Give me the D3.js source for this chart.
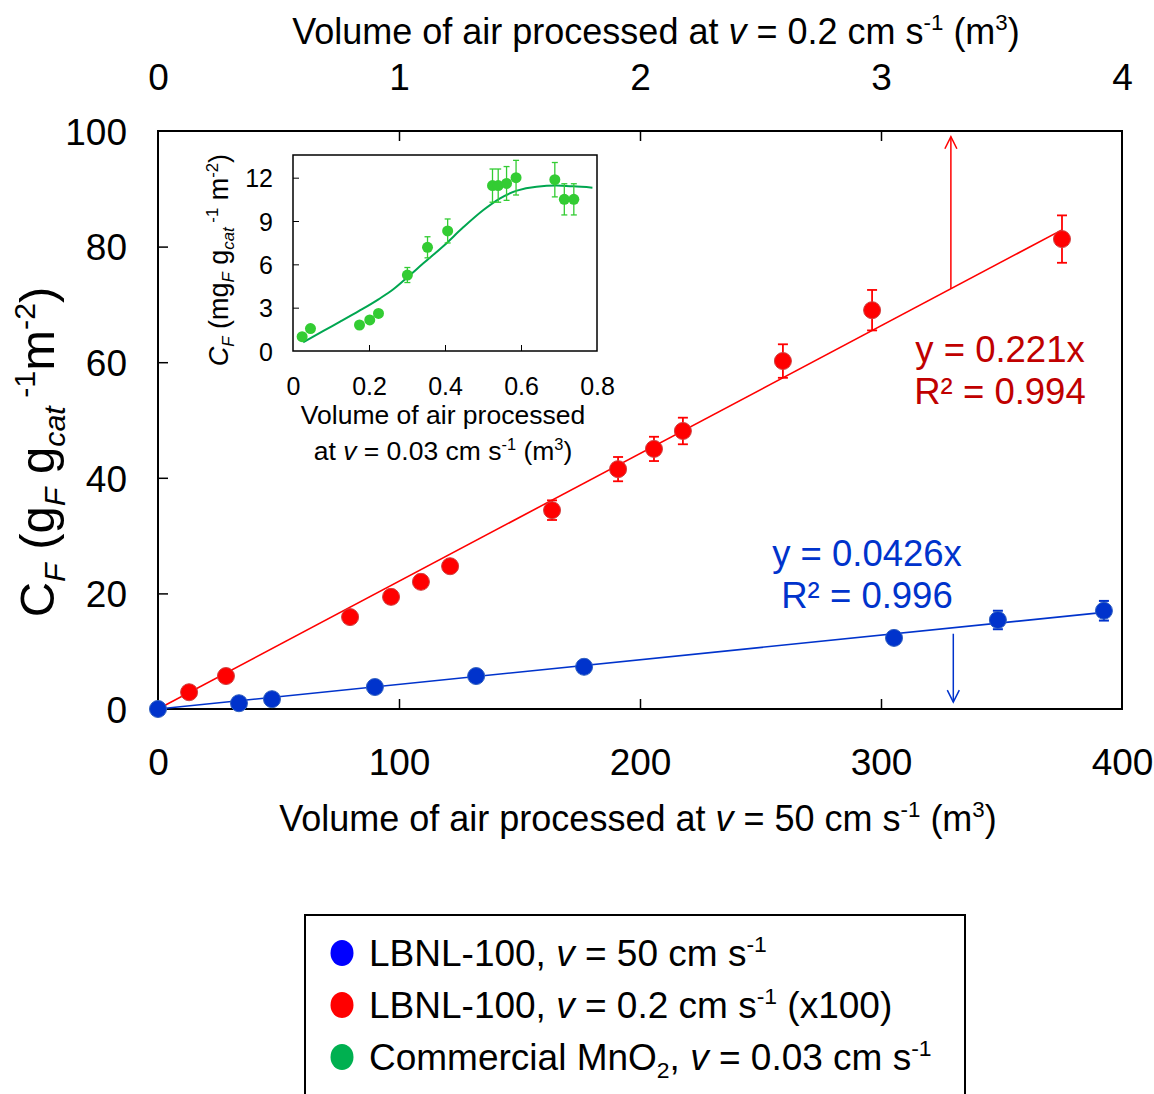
<!DOCTYPE html>
<html><head><meta charset="utf-8">
<script src="https://cdn.jsdelivr.net/npm/d3@7"></script>
<style>body{margin:0;background:#fff}svg{display:block;font-family:"Liberation Sans",Arial,sans-serif}</style>
</head><body><svg id="c" width="1154" height="1094"></svg>
<script>
// ---- data ----
const blueX = [0, 33.6, 47.3, 90, 132, 176.8, 305.4, 348.5, 392.5];
const blueY = [0, 1.0, 1.7, 3.8, 5.7, 7.3, 12.3, 15.4, 17.0];
const blueErr = [0, 0, 0, 0, 0, 0, 1.0, 1.6, 1.7];
const redX = [0.129, 0.282, 0.797, 0.967, 1.091, 1.212, 1.635, 1.909, 2.058, 2.178, 2.593, 2.963, 3.751];
const redY = [2.9, 5.7, 15.9, 19.4, 22.0, 24.7, 34.4, 41.5, 45.0, 48.1, 60.2, 69.0, 81.3];
const redErr = [0, 0, 0, 0, 0, 0, 1.7, 2.1, 2.1, 2.3, 2.9, 3.5, 4.1];
const blueSlope = 0.0426, redSlope = 22.1;
const blueFitEnd = 392.5, redFitEnd = 3.751;
const greenX = [0.024, 0.046, 0.175, 0.202, 0.225, 0.301, 0.354, 0.407, 0.525, 0.54, 0.562, 0.587, 0.689, 0.714, 0.739];
const greenY = [0.99, 1.55, 1.8, 2.15, 2.6, 5.26, 7.18, 8.31, 11.45, 11.45, 11.6, 12.0, 11.86, 10.5, 10.5];
const greenErr = [0, 0, 0, 0, 0, 0.52, 0.73, 0.83, 1.15, 1.15, 1.17, 1.2, 1.19, 1.08, 1.08];
const greenCurveX = [0.027, 0.080, 0.124, 0.175, 0.225, 0.264, 0.301, 0.343, 0.396, 0.448, 0.501, 0.545, 0.589, 0.641, 0.694, 0.738, 0.788];
const greenCurveY = [0.60, 1.39, 2.03, 2.79, 3.58, 4.27, 5.10, 6.07, 7.27, 8.56, 9.76, 10.57, 11.10, 11.38, 11.45, 11.40, 11.31];
const bottomTicks = [0, 100, 200, 300, 400];
const topTicks = [0, 1, 2, 3, 4];
const leftTicks = [0, 20, 40, 60, 80, 100];
const insetXTicks = [0, 0.2, 0.4, 0.6, 0.8];
const insetYTicks = [0, 3, 6, 9, 12];
const legendItems = [
  {c: "#0000ff", segs: [{t: "LBNL-100, "}, {t: "v", i: 1}, {t: " = 50 cm s"}, {t: "-1", sup: 1}]},
  {c: "#ff0000", segs: [{t: "LBNL-100, "}, {t: "v", i: 1}, {t: " = 0.2 cm s"}, {t: "-1", sup: 1}, {t: " (x100)"}]},
  {c: "#00b050", segs: [{t: "Commercial MnO"}, {t: "2", sub: 1}, {t: ", "}, {t: "v", i: 1}, {t: " = 0.03 cm s"}, {t: "-1", sup: 1}]}
];

// ---- helpers ----
const svg = d3.select("#c");
function rich(sel, segs, size) {
  let cur = 0;
  segs.forEach(s => {
    const fs = (s.sup || s.sub) ? size * 0.62 : size;
    const want = s.sup ? -size * 0.38 : (s.sub ? size * 0.22 : 0);
    const ts = sel.append("tspan").attr("font-size", fs).attr("dy", want - cur).text(s.t);
    if (s.i) ts.attr("font-style", "italic");
    cur = want;
  });
  return sel;
}

// ---- main plot ----
const L = 158, R = 1122, T = 131, B = 709;
const x = d3.scaleLinear().domain([0, 400]).range([L, R]);
const xt = d3.scaleLinear().domain([0, 4]).range([L, R]);
const y = d3.scaleLinear().domain([0, 100]).range([B, T]);

svg.append("rect").attr("x", L).attr("y", T).attr("width", R - L).attr("height", B - T)
  .attr("fill", "none").attr("stroke", "#000").attr("stroke-width", 2);

const axB = svg.append("g").attr("transform", `translate(0,${B})`)
  .call(d3.axisBottom(x).tickValues(bottomTicks).tickSizeInner(-10).tickSizeOuter(0).tickPadding(40));
const axT = svg.append("g").attr("transform", `translate(0,${T})`)
  .call(d3.axisTop(xt).tickValues(topTicks).tickFormat(d3.format("d")).tickSizeInner(-10).tickSizeOuter(0).tickPadding(41));
const axL = svg.append("g").attr("transform", `translate(${L},0)`)
  .call(d3.axisLeft(y).tickValues(leftTicks).tickSizeInner(-10).tickSizeOuter(0).tickPadding(31));
[axB, axT, axL].forEach(a => {
  a.select(".domain").remove();
  a.selectAll(".tick line").attr("stroke", "#000").attr("stroke-width", 1.5);
  a.selectAll(".tick text").attr("font-size", 37).attr("font-family", "Liberation Sans, Arial").attr("fill", "#000");
});
axL.selectAll(".tick text").attr("dy", "0.36em");
axL.selectAll(".tick").filter(d => d === 0 || d === 100).select("line").remove();
axB.selectAll(".tick").filter(d => d === 0 || d === 400).select("line").remove();
axT.selectAll(".tick").filter(d => d === 0 || d === 4).select("line").remove();

// axis titles
rich(svg.append("text").attr("x", 656).attr("y", 44).attr("text-anchor", "middle").attr("font-size", 36),
  [{t: "Volume of air processed at "}, {t: "v", i: 1}, {t: " = 0.2 cm s"}, {t: "-1", sup: 1}, {t: " (m"}, {t: "3", sup: 1}, {t: ")"}], 36);
rich(svg.append("text").attr("x", 638).attr("y", 831).attr("text-anchor", "middle").attr("font-size", 36),
  [{t: "Volume of air processed at "}, {t: "v", i: 1}, {t: " = 50 cm s"}, {t: "-1", sup: 1}, {t: " (m"}, {t: "3", sup: 1}, {t: ")"}], 36);
rich(svg.append("text").attr("transform", "translate(54,452) rotate(-90)").attr("text-anchor", "middle").attr("font-size", 49),
  [{t: "C"}, {t: "F", sub: 1, i: 1}, {t: " (g"}, {t: "F", sub: 1, i: 1}, {t: " g"}, {t: "cat", sub: 1, i: 1}, {t: " -1", sup: 1}, {t: "m"}, {t: "-2", sup: 1}, {t: ")"}], 49);

// fit lines
svg.append("line").attr("x1", x(0)).attr("y1", y(0)).attr("x2", x(blueFitEnd)).attr("y2", y(blueSlope * blueFitEnd))
  .attr("stroke", "#0033cc").attr("stroke-width", 1.6);
svg.append("line").attr("x1", xt(0)).attr("y1", y(0)).attr("x2", xt(redFitEnd)).attr("y2", y(redSlope * redFitEnd))
  .attr("stroke", "#ff0000").attr("stroke-width", 1.6);

// arrows
const redArrowX = 3.29, blueArrowX = 330;
function arrow(x0, y0, y1, col) {
  svg.append("line").attr("x1", x0).attr("y1", y0).attr("x2", x0).attr("y2", y1).attr("stroke", col).attr("stroke-width", 1.5);
  const d = y1 < y0 ? 1 : -1;
  svg.append("path").attr("d", `M${x0 - 6},${y1 + d * 12}L${x0},${y1}L${x0 + 6},${y1 + d * 12}`)
    .attr("fill", "none").attr("stroke", col).attr("stroke-width", 1.5);
}
arrow(xt(redArrowX), y(redSlope * redArrowX), y(99), "#ff0000");
arrow(x(blueArrowX), y(blueSlope * blueArrowX) + 6, y(1.2), "#0033cc");

// error bars + points
function errBars(g, xs, ys, es, sx, sy, col, cap, w) {
  xs.forEach((v, i) => {
    if (!es[i]) return;
    const px = sx(v);
    g.append("line").attr("x1", px).attr("x2", px).attr("y1", sy(ys[i] - es[i])).attr("y2", sy(ys[i] + es[i])).attr("stroke", col).attr("stroke-width", w);
    [ys[i] - es[i], ys[i] + es[i]].forEach(e => g.append("line").attr("x1", px - cap).attr("x2", px + cap).attr("y1", sy(e)).attr("y2", sy(e)).attr("stroke", col).attr("stroke-width", w));
  });
}
const gm = svg.append("g");
errBars(gm, blueX, blueY, blueErr, x, y, "#0033cc", 5, 2);
errBars(gm, redX, redY, redErr, xt, y, "#ff0000", 5, 1.8);
gm.selectAll(".b").data(blueX).join("circle").attr("cx", d => x(d)).attr("cy", (d, i) => y(blueY[i])).attr("r", 8.5)
  .attr("fill", "#0033cc").attr("stroke", "#3060c0").attr("stroke-width", 1);
gm.selectAll(".r").data(redX).join("circle").attr("cx", d => xt(d)).attr("cy", (d, i) => y(redY[i])).attr("r", 8.5)
  .attr("fill", "#ff0000").attr("stroke", "#d04040").attr("stroke-width", 1);

// fit annotations
const redCol = "#c00000", blueCol = "#0033cc";
svg.append("text").attr("x", 1000).attr("y", 362).attr("text-anchor", "middle").attr("font-size", 36.5).attr("fill", redCol).text("y = 0.221x");
svg.append("text").attr("x", 1000).attr("y", 404).attr("text-anchor", "middle").attr("font-size", 36.5).attr("fill", redCol).text("R² = 0.994");
svg.append("text").attr("x", 867).attr("y", 566).attr("text-anchor", "middle").attr("font-size", 36.5).attr("fill", blueCol).text("y = 0.0426x");
svg.append("text").attr("x", 867).attr("y", 608).attr("text-anchor", "middle").attr("font-size", 36.5).attr("fill", blueCol).text("R² = 0.996");

// ---- inset ----
const iL = 293, iR = 597, iT = 155, iB = 351;
const ix = d3.scaleLinear().domain([0, 0.8]).range([iL, iR]);
const iy = d3.scaleLinear().domain([0, 13.57]).range([iB, iT]);
svg.append("rect").attr("x", iL).attr("y", iT).attr("width", iR - iL).attr("height", iB - iT)
  .attr("fill", "#fff").attr("stroke", "#000").attr("stroke-width", 1.5);
const iax = svg.append("g").attr("transform", `translate(0,${iB})`)
  .call(d3.axisBottom(ix).tickValues(insetXTicks).tickFormat(d3.format("")).tickSizeInner(-6).tickSizeOuter(0).tickPadding(26));
const iay = svg.append("g").attr("transform", `translate(${iL},0)`)
  .call(d3.axisLeft(iy).tickValues(insetYTicks).tickSizeInner(-6).tickSizeOuter(0).tickPadding(20));
[iax, iay].forEach(a => {
  a.select(".domain").remove();
  a.selectAll(".tick line").attr("stroke", "#000").attr("stroke-width", 1);
  a.selectAll(".tick text").attr("font-size", 25).attr("font-family", "Liberation Sans, Arial").attr("fill", "#000");
});
iay.selectAll(".tick text").attr("dy", "0.36em");
iax.selectAll(".tick").filter(d => d === 0 || d === 0.8).select("line").remove();
iay.selectAll(".tick").filter(d => d === 0).select("line").remove();

const line = d3.line().x(d => ix(d[0])).y(d => iy(d[1])).curve(d3.curveMonotoneX);
svg.append("path").attr("d", line(greenCurveX.map((v, i) => [v, greenCurveY[i]])))
  .attr("fill", "none").attr("stroke", "#00a650").attr("stroke-width", 2);
const gi = svg.append("g");
errBars(gi, greenX, greenY, greenErr, ix, iy, "#33cc33", 3, 1.3);
gi.selectAll("circle").data(greenX).join("circle").attr("cx", d => ix(d)).attr("cy", (d, i) => iy(greenY[i])).attr("r", 5.5)
  .attr("fill", "#33cc33");

rich(svg.append("text").attr("x", 443).attr("y", 424).attr("text-anchor", "middle").attr("font-size", 26.5), [{t: "Volume of air processed"}], 26.5);
rich(svg.append("text").attr("x", 443).attr("y", 460).attr("text-anchor", "middle").attr("font-size", 26.5),
  [{t: "at "}, {t: "v", i: 1}, {t: " = 0.03 cm s"}, {t: "-1", sup: 1}, {t: " (m"}, {t: "3", sup: 1}, {t: ")"}], 26.5);
rich(svg.append("text").attr("transform", "translate(228,260) rotate(-90)").attr("text-anchor", "middle").attr("font-size", 27),
  [{t: "C", i: 1}, {t: "F", sub: 1, i: 1}, {t: " (mg"}, {t: "F", sub: 1, i: 1}, {t: " g"}, {t: "cat", sub: 1, i: 1}, {t: " -1", sup: 1}, {t: " m"}, {t: "-2", sup: 1}, {t: ")"}], 27);

// ---- legend ----
svg.append("rect").attr("x", 305).attr("y", 915).attr("width", 660).attr("height", 200)
  .attr("fill", "#fff").attr("stroke", "#000").attr("stroke-width", 2);
const lg = svg.append("g");
legendItems.forEach((it, i) => {
  const cy = 953 + i * 52;
  lg.append("ellipse").attr("cx", 342).attr("cy", cy).attr("rx", 11.5).attr("ry", 13).attr("fill", it.c);
  rich(lg.append("text").attr("x", 369).attr("y", cy + 13).attr("font-size", 37), it.segs, 37);
});
</script></body></html>
